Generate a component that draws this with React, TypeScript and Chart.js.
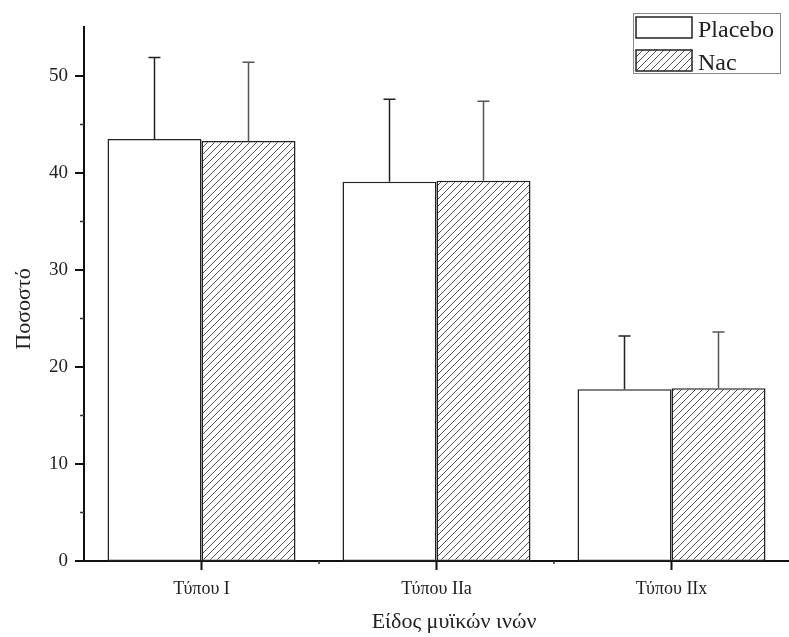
import React, { useEffect, useRef } from 'react';
import { Chart, registerables } from 'chart.js';

Chart.register(...registerables);

const categories = ['Τύπου I', 'Τύπου IIa', 'Τύπου IIx'];
const seriesNames = ['Placebo', 'Nac'];
const placeboValues = [43.5, 39.1, 17.7];
const placeboErrors = [8.4, 8.5, 5.5];
const nacValues = [43.3, 39.2, 17.8];
const nacErrors = [8.1, 8.2, 5.8];
const yTickValues = [0, 10, 20, 30, 40, 50];
const yMinorValues = [5, 15, 25, 35, 45];
const yTitle = 'Ποσοστό';
const xTitle = 'Είδος μυϊκών ινών';

const FONT = '"Liberation Serif", "DejaVu Serif", serif';

function makeHatch(): CanvasPattern | string {
  const s = 7;
  const c = document.createElement('canvas');
  c.width = s;
  c.height = s;
  const g = c.getContext('2d');
  if (!g) return '#ccc';
  g.fillStyle = '#ffffff';
  g.fillRect(0, 0, s, s);
  g.strokeStyle = '#555';
  g.lineWidth = 1;
  g.beginPath();
  g.moveTo(-1, s + 1);
  g.lineTo(s + 1, -1);
  g.moveTo(-s / 2 - 1, s / 2 + 1);
  g.lineTo(s / 2 + 1, -s / 2 - 1);
  g.moveTo(s / 2 - 1, s * 1.5 + 1);
  g.lineTo(s * 1.5 + 1, s / 2 - 1);
  g.stroke();
  return g.createPattern(c, 'repeat') || '#ccc';
}

export default function App() {
  const ref = useRef<HTMLCanvasElement | null>(null);

  useEffect(() => {
    if (!ref.current) return;
    const hatch = makeHatch();
    const errs = [placeboErrors, nacErrors];

    const decor = {
      id: 'decor',
      afterDatasetsDraw(chart: any) {
        const ctx = chart.ctx;
        const y = chart.scales.y;
        ctx.save();
        chart.data.datasets.forEach((ds: any, i: number) => {
          const meta = chart.getDatasetMeta(i);
          meta.data.forEach((bar: any, j: number) => {
            const top = y.getPixelForValue(ds.data[j] + errs[i][j]);
            ctx.strokeStyle = i === 0 ? '#222' : '#555';
            ctx.lineWidth = 1.5;
            ctx.beginPath();
            ctx.moveTo(bar.x, bar.y);
            ctx.lineTo(bar.x, top);
            ctx.moveTo(bar.x - 6, top);
            ctx.lineTo(bar.x + 6, top);
            ctx.stroke();
          });
        });
        ctx.restore();
      },
      afterDraw(chart: any) {
        const ctx = chart.ctx;
        const x = chart.scales.x;
        const y = chart.scales.y;
        const area = chart.chartArea;
        ctx.save();
        ctx.strokeStyle = '#111';
        ctx.lineWidth = 2;
        ctx.beginPath();
        yTickValues.forEach((v) => {
          const py = y.getPixelForValue(v);
          ctx.moveTo(area.left - 9, py);
          ctx.lineTo(area.left, py);
        });
        categories.forEach((_, i) => {
          const px = x.getPixelForValue(i);
          ctx.moveTo(px, area.bottom);
          ctx.lineTo(px, area.bottom + 9);
        });
        ctx.stroke();
        ctx.lineWidth = 1.5;
        ctx.strokeStyle = '#333';
        ctx.beginPath();
        yMinorValues.forEach((v) => {
          const py = y.getPixelForValue(v);
          ctx.moveTo(area.left - 4, py);
          ctx.lineTo(area.left, py);
        });
        for (let i = 0; i < categories.length - 1; i++) {
          const px = (x.getPixelForValue(i) + x.getPixelForValue(i + 1)) / 2;
          ctx.moveTo(px, area.bottom);
          ctx.lineTo(px, area.bottom + 3);
        }
        ctx.stroke();

        ctx.fillStyle = '#222';
        ctx.font = `22px ${FONT}`;
        ctx.textAlign = 'center';
        ctx.textBaseline = 'alphabetic';
        ctx.fillText(xTitle, 454, 628);
        ctx.save();
        ctx.translate(30, 309);
        ctx.rotate(-Math.PI / 2);
        ctx.fillText(yTitle, 0, 0);
        ctx.restore();

        ctx.strokeStyle = '#888';
        ctx.lineWidth = 1;
        ctx.strokeRect(633.5, 13.5, 147, 60);
        const fills = ['#ffffff', hatch];
        const rows = [17, 50];
        ctx.font = `24px ${FONT}`;
        ctx.textAlign = 'left';
        seriesNames.forEach((name, i) => {
          ctx.fillStyle = fills[i] as any;
          ctx.fillRect(636, rows[i], 56, 21);
          ctx.strokeStyle = '#222';
          ctx.lineWidth = 1.5;
          ctx.strokeRect(636, rows[i], 56, 21);
          ctx.fillStyle = '#222';
          ctx.fillText(name, 698, rows[i] + 20);
        });
        ctx.restore();
      },
    };

    const chart = new Chart(ref.current, {
      type: 'bar',
      data: {
        labels: categories,
        datasets: [
          {
            label: seriesNames[0],
            data: placeboValues,
            backgroundColor: '#ffffff',
            borderColor: '#222',
            borderWidth: 1.5,
            borderSkipped: false,
            categoryPercentage: 0.8,
            barPercentage: 1.0,
          },
          {
            label: seriesNames[1],
            data: nacValues,
            backgroundColor: hatch as any,
            borderColor: '#222',
            borderWidth: 1.5,
            borderSkipped: false,
            categoryPercentage: 0.8,
            barPercentage: 1.0,
          },
        ],
      },
      options: {
        responsive: false,
        animation: false,
        layout: { padding: { top: 24, right: 0, bottom: 0, left: 0 } },
        plugins: {
          legend: { display: false },
          tooltip: { enabled: false },
        },
        scales: {
          x: {
            type: 'category',
            grid: { display: false, drawTicks: false },
            border: { display: true, color: '#111', width: 2 },
            ticks: {
              color: '#222',
              font: { family: FONT, size: 18 },
              padding: 17,
              maxRotation: 0,
            },
            afterFit(scale: any) {
              scale.height = 76;
            },
          },
          y: {
            type: 'linear',
            min: 0,
            max: 55,
            grid: { display: false, drawTicks: false },
            border: { display: true, color: '#111', width: 2 },
            ticks: {
              stepSize: 10,
              color: '#222',
              font: { family: FONT, size: 19 },
              padding: 16,
            },
            afterBuildTicks(scale: any) {
              scale.ticks = yTickValues.map((v) => ({ value: v }));
            },
            afterFit(scale: any) {
              scale.width = 84;
            },
          },
        },
      },
      plugins: [decor],
    });

    return () => chart.destroy();
  }, []);

  return (
    <div style={{ position: 'fixed', left: 0, top: 0, width: 789, height: 637, background: '#fff' }}>
      <canvas ref={ref} width={789} height={637} />
    </div>
  );
}
